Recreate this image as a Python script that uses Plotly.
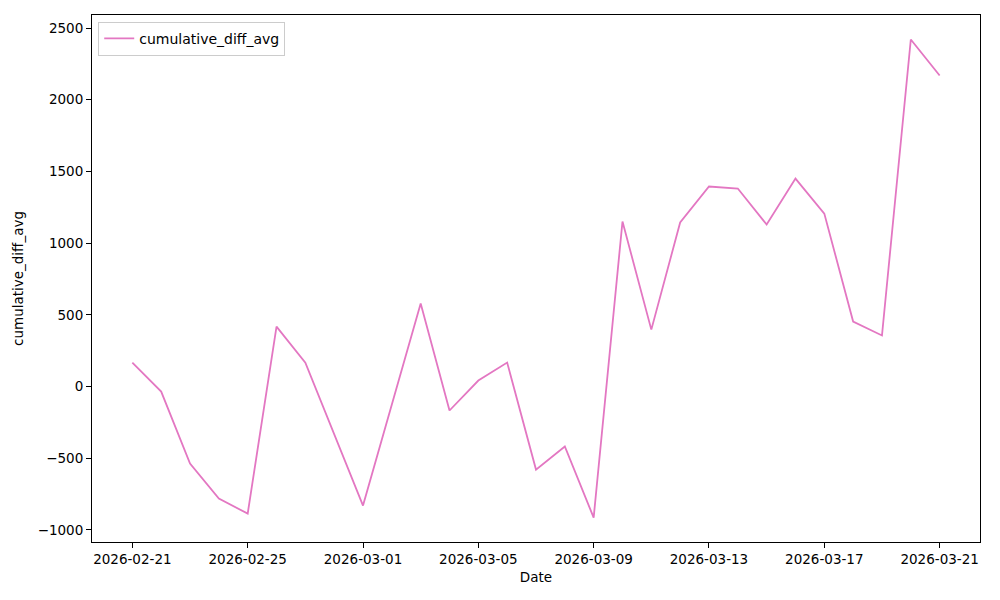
import plotly.graph_objects as go
import pandas as pd

dates = pd.date_range("2026-02-21", "2026-03-21", freq="D")
values = [167, -35, -537, -781, -886, 418, 167, -330, -830, -125, 579, -167, 42, 167,
          -579, -418, -914, 1151, 397, 1144, 1395, 1381, 1130, 1450, 1206, 453, 356, 2420, 2169]

fig = go.Figure()
fig.add_trace(go.Scatter(x=dates, y=values, mode="lines", name="cumulative_diff_avg",
                         line=dict(color="#e377c2", width=1.8), showlegend=True))

axis_common = dict(showline=True, linecolor="black", linewidth=1, mirror=True,
                   ticks="outside", ticklen=5, tickcolor="black", showgrid=False,
                   zeroline=False, tickfont=dict(size=13.5, color="black"))
fig.update_layout(
    width=992, height=592,
    margin=dict(l=84, r=20, t=7, b=58),
    paper_bgcolor="white", plot_bgcolor="white",
    font=dict(family="DejaVu Sans", size=13, color="black"),
    xaxis=dict(range=["2026-02-19 14:24", "2026-03-22 09:36"], tick0="2026-02-21",
               dtick=4 * 86400000, tickformat="%Y-%m-%d",
               title=dict(text="Date", font=dict(size=13.5), standoff=6), **axis_common),
    yaxis=dict(range=[-1084, 2591], tickvals=[-1000, -500, 0, 500, 1000, 1500, 2000, 2500],
               title=dict(text="cumulative_diff_avg", font=dict(size=13.5), standoff=10), **axis_common),
    legend=dict(x=0.007, y=0.987, xanchor="left", yanchor="top", bgcolor="white",
                bordercolor="#cccccc", borderwidth=1, font=dict(size=14),
                tracegroupgap=0, itemwidth=30),
    showlegend=True,
)
fig.write_html("out.html")
